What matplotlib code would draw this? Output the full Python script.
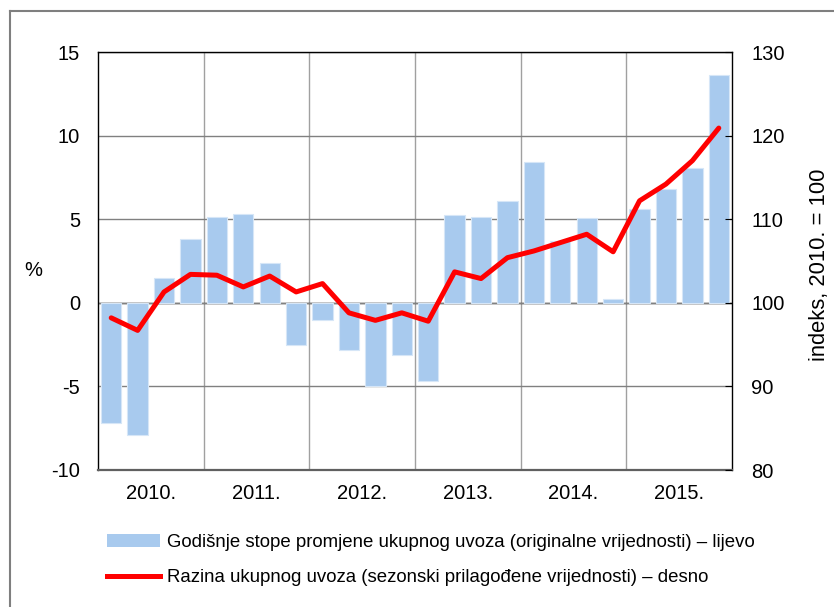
import numpy as np
import matplotlib
matplotlib.use("Agg")
import matplotlib.pyplot as plt
from matplotlib.lines import Line2D
from matplotlib.patches import Patch

plt.rcParams['font.family'] = ['Liberation Sans', 'DejaVu Sans']
plt.rcParams['axes.unicode_minus'] = False

# quarterly data, 2010 Q1 - 2015 Q4
years = ['2010.', '2011.', '2012.', '2013.', '2014.', '2015.']
growth = [-7.2, -7.9, 1.5, 3.8, 5.15, 5.3, 2.4, -2.55,
          -1.0, -2.85, -4.95, -3.15, -4.7, 5.25, 5.15, 6.1,
          8.4, 3.7, 5.1, 0.25, 5.6, 6.8, 8.05, 13.6]
level = [98.2, 96.7, 101.3, 103.4, 103.3, 101.9, 103.2, 101.3,
         102.3, 98.8, 97.9, 98.8, 97.8, 103.7, 102.9, 105.4,
         106.2, 107.2, 108.2, 106.1, 112.2, 114.2, 117.0, 120.9]

bar_label = 'Godišnje stope promjene ukupnog uvoza (originalne vrijednosti) – lijevo'
line_label = 'Razina ukupnog uvoza (sezonski prilagođene vrijednosti) – desno'

fig = plt.figure(figsize=(8.34, 6.07), dpi=100)
ax = fig.add_axes([98/834, 137/607, 634/834, 418/607])

x = np.arange(len(growth))
ax.bar(x, growth, width=0.77, color='#a8caee', edgecolor='#d6e6f7', linewidth=0.8, zorder=2)

ax.set_xlim(-0.5, len(growth) - 0.5)
ax.set_ylim(-10, 15)
ax.set_yticks([-10, -5, 0, 5, 10, 15])
ax.yaxis.grid(True, color='#808080', linewidth=1.0, zorder=0)
for b in np.arange(3.5, len(growth) - 1, 4):
    ax.axvline(b, color='#a0a0a0', linewidth=1.0, zorder=0)
ax.axhline(0, color='#303030', linewidth=1.0, zorder=1)

ax.set_xticks(np.arange(1.5, len(growth), 4))
ax.set_xticklabels(years)
ax.tick_params(axis='x', length=0, pad=10, labelsize=14.5)
ax.tick_params(axis='y', length=0, pad=13, labelsize=14.5)
for s in ax.spines.values():
    s.set_color('black')
    s.set_linewidth(1.0)
ax.spines['bottom'].set_color('#606060')
ax.spines['bottom'].set_linewidth(1.6)

ax.text(-0.1025, 0.478, '%', transform=ax.transAxes, fontsize=14.5, ha='center', va='center')

ax2 = ax.twinx()
ax2.plot(x, level, color='#ff0000', linewidth=3.6, solid_capstyle='round', zorder=3)
ax2.set_ylim(80, 130)
ax2.set_yticks([80, 90, 100, 110, 120, 130])
ax2.tick_params(axis='y', direction='in', length=5, pad=14, labelsize=14.5)
ax2.set_ylabel('indeks, 2010. = 100', fontsize=15.8)
ax2.yaxis.set_label_coords(1.121, 0.49)
for s in ax2.spines.values():
    s.set_visible(False)

handles = [Patch(facecolor='#a8caee', edgecolor='none'),
           Line2D([], [], color='#ff0000', linewidth=3.6)]
fig.legend(handles, [bar_label, line_label], loc='upper left',
           bbox_to_anchor=(100/834, 1 - 527/607), frameon=False, fontsize=13.4,
           handlelength=2.8, handletextpad=0.4, labelspacing=0.95,
           borderaxespad=0)

# outer frame (top and left)
fig.add_artist(Line2D([10/834, 1], [1 - 11/607, 1 - 11/607], color='#7f7f7f', linewidth=1.5))
fig.add_artist(Line2D([10/834, 10/834], [0, 1 - 11/607], color='#7f7f7f', linewidth=1.5))

fig.savefig('out.png', dpi=100)
